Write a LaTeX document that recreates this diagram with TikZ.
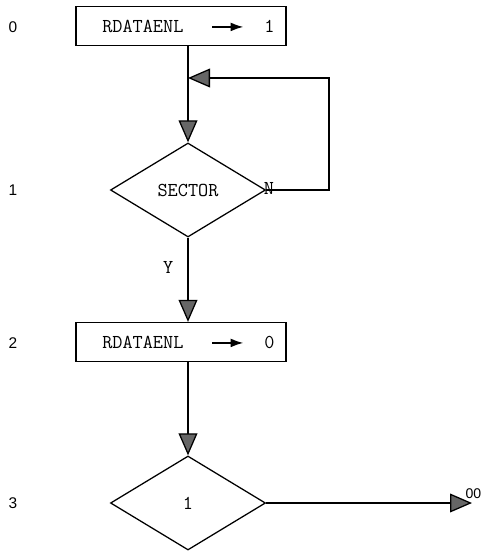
\documentclass[tikz,border=0pt]{standalone}
\usepackage{fontspec}
\setmainfont{Liberation Serif}
\setsansfont{Liberation Sans}
\usepackage{tikz}
\usetikzlibrary{calc,positioning,shapes.geometric,arrows.meta}

\newcommand{\setarrow}{\tikz[baseline=-0.6ex]\draw[line width=1.3pt,-{Latex[length=0.32cm,width=0.22cm]}] (0cm,0cm) -- (0.78cm,0cm);}
\newcommand{\assign}[2]{#1\hspace{0.7cm}\setarrow\hspace{0.5cm}#2}

\begin{document}
\begin{tikzpicture}[x=0.025cm,y=-0.025cm,line width=0.9pt,
  flow/.style={-{Triangle[length=0.55cm,width=0.47cm,fill=black!60]}},
  regbox/.style={draw,minimum width=5.25cm,minimum height=0.975cm,inner sep=0pt},
  test/.style={draw,diamond,minimum width=3.875cm,minimum height=2.35cm,inner sep=0pt,
    font=\fontsize{14}{16}\ttfamily},
  txt/.style={font=\fontsize{14}{16}\ttfamily,inner sep=0pt},
  stepno/.style={font=\fontsize{11}{13}\sffamily,inner sep=0pt}]
\useasboundingbox (0,0) rectangle (482,551);

% step numbers
\node[stepno] (n0) at (13,27) {0};
\node[stepno] (n1) at (13,190) {1};
\node[stepno] (n2) at (13,343) {2};
\node[stepno] (n3) at (13,503) {3};

% boxes and tests
\node[regbox] (set1) at (181,26) {};
\node[txt,anchor=west] (set1txt) at (102,26) {\assign{RDATAENL}{1}};
\node[test] (sector) at (188,190) {SECTOR};
\node[regbox] (set0) at (181,342) {};
\node[txt,anchor=west] (set0txt) at (102,342) {\assign{RDATAENL}{0}};
\node[test] (one) at (188,503) {1};

\coordinate (join) at (188,78);
\coordinate (loopc) at (329,78);
\coordinate (exit) at (472,503);

% connectors
\draw (join |- set1.south) -- (join);
\draw[flow] (join) -- (sector.north);
\draw[flow] (sector.east) -| (loopc) -- (join);
\node[txt,anchor=south west] (nlab) at ([xshift=-2pt,yshift=-4pt]sector.east) {N};
\draw[flow] (sector.south) -- (sector.south |- set0.north)
  node[txt,pos=0.36,left=10pt] (ylab) {Y};
\draw[flow] (set0.south -| one.north) -- (one.north);
\draw[flow] (one.east) -- (exit);
\node[stepno,font=\fontsize{10}{12}\sffamily,anchor=south east] (out) at ([xshift=7pt,yshift=3pt]exit) {00};
\end{tikzpicture}
\end{document}
